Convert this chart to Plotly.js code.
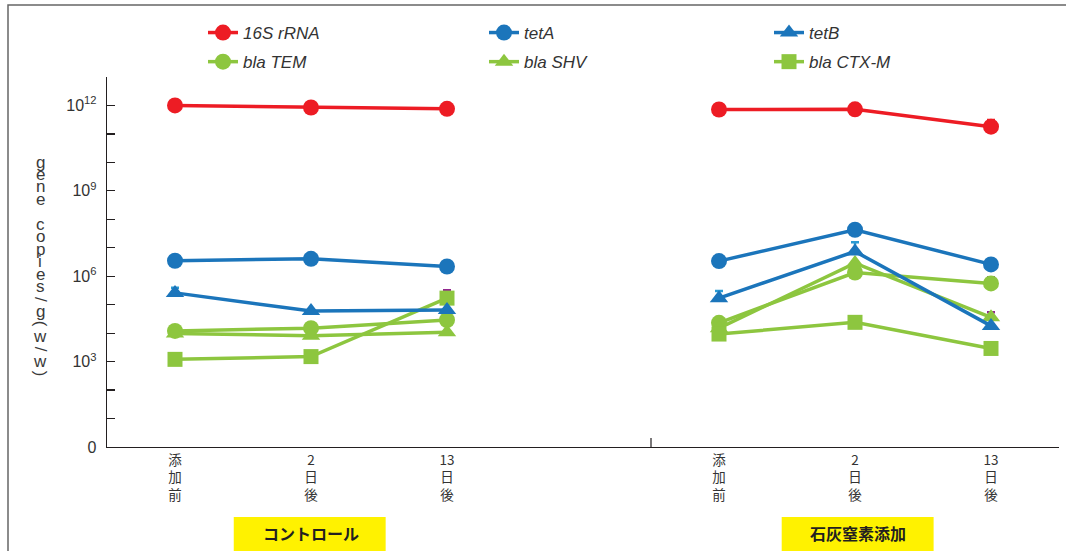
<!DOCTYPE html>
<html>
<head>
<meta charset="utf-8">
<script src="https://cdn.plot.ly/plotly-3.0.1.min.js"></script>
<style>
  html, body { margin: 0; padding: 0; background: #ffffff; }
  #chart { width: 1066px; height: 551px; }
</style>
</head>
<body>
<div id="chart"></div>
<script>
// Sampling points (two treatment groups, three time points each)
const timepoints = ["添<br>加<br>前", "2<br>日<br>後", "13<br>日<br>後"];
const groupNames = ["コントロール", "石灰窒素添加"];
const controlX = [0, 1, 2];
const treatedX = [4, 5, 6];

// Gene copies per gram (w/w): control group
const ctrl16S  = [1.0e12, 8.5e11, 7.6e11];
const ctrlTetA = [3.5e6, 4.1e6, 2.2e6];
const ctrlTetB = [2.6e5, 6.0e4, 6.5e4];
const ctrlTEM  = [1.2e4, 1.5e4, 2.9e4];
const ctrlSHV  = [9.8e3, 8.1e3, 1.07e4];
const ctrlCTXM = [1.2e3, 1.5e3, 1.7e5];

// Gene copies per gram (w/w): lime nitrogen group
const trt16S  = [7.2e11, 7.3e11, 1.8e11];
const trtTetA = [3.4e6, 4.3e7, 2.6e6];
const trtTetB = [1.7e5, 7.4e6, 1.8e4];
const trtTEM  = [2.3e4, 1.35e6, 5.6e5];
const trtSHV  = [1.5e4, 2.9e6, 3.6e4];
const trtCTXM = [9.3e3, 2.4e4, 2.9e3];

// Upper error (standard deviation) for each group
const err16S  = [[0, 0, 0], [0, 0, 1.3e11]];
const errTetA = [[0, 0, 0], [0, 0, 0]];
const errTetB = [[1.3e5, 0, 0], [1.3e5, 8.1e6, 0]];
const errTEM  = [[0, 0, 0], [0, 0, 3.7e5]];
const errSHV  = [[0, 0, 0], [0, 0, 1.8e4]];
const errCTXM = [[0, 0, 1.5e5], [0, 0, 0]];

const RED = "#ed1c24", BLUE = "#1b75bb", GREEN = "#8dc63f";
const CAP_BLUE = "#2b9bd3", CAP_PURPLE = "#92278f";

// Join both groups into one series, broken by a gap between the groups
function joinGroups(a, b) { return a.concat([null], b); }
const xAll = controlX.concat([3], treatedX);

function series(name, ctrl, trt, err, color, symbol, capColor, legendId, rank) {
  return {
    type: "scatter",
    mode: "lines+markers",
    name: name,
    legend: legendId,
    legendgroup: name,
    legendrank: rank,
    x: xAll,
    y: joinGroups(ctrl, trt),
    connectgaps: false,
    line: { color: color, width: 3.5 },
    marker: { color: color, symbol: symbol, size: symbol === "square" ? 15 : 16 },
    error_y: {
      type: "data", symmetric: false,
      array: joinGroups(err[0], err[1]),
      arrayminus: joinGroups([0, 0, 0], [0, 0, 0]),
      color: capColor, thickness: 2.5, width: 4
    },
    hoverinfo: "x+y+name"
  };
}

const traces = [
  series("16S rRNA", ctrl16S, trt16S, err16S, RED, "circle", RED, "legend", 1),
  series("bla TEM", ctrlTEM, trtTEM, errTEM, GREEN, "circle", CAP_PURPLE, "legend", 2),
  series("tetA", ctrlTetA, trtTetA, errTetA, BLUE, "circle", CAP_BLUE, "legend2", 1),
  series("bla SHV", ctrlSHV, trtSHV, errSHV, GREEN, "triangle-up", CAP_PURPLE, "legend2", 2),
  series("tetB", ctrlTetB, trtTetB, errTetB, BLUE, "triangle-up", CAP_BLUE, "legend3", 1),
  series("bla CTX-M", ctrlCTXM, trtCTXM, errCTXM, GREEN, "square", CAP_PURPLE, "legend3", 2)
];
// draw order: keep 16S and the tet genes above the bla genes where they cross
const drawOrder = [1, 3, 5, 0, 2, 4].map(i => traces[i]);

// Log axis: labels every third decade, a minor tick at every decade
const yTickVals = [1, 1e3, 1e6, 1e9, 1e12];
const yTickText = ["0", "10<sup>3</sup>", "10<sup>6</sup>", "10<sup>9</sup>", "10<sup>12</sup>"];
const yMinorVals = [1e1, 1e2, 1e4, 1e5, 1e7, 1e8, 1e10, 1e11, 1e13];

const yTitle = "gene copies/g(w/w)";

// plot area geometry in pixels (for paper-coordinate placement of decorations)
const M = { l: 107, r: 7, t: 77, b: 104 };
const W = 1066 - M.l - M.r, H = 551 - M.t - M.b;
const px = v => (v - M.l) / W;
const py = v => (551 - M.b - v) / H;

const annotations = [];
// vertical axis title, one upright character per line; slash and brackets turned
for (let i = 0; i < yTitle.length; i++) {
  const ch = yTitle[i];
  if (ch === " ") continue;
  const turned = (ch === "/" || ch === "(" || ch === ")");
  annotations.push({
    xref: "paper", yref: "paper", x: px(40), y: py(162 + 12.45 * i),
    text: ch, showarrow: false, xanchor: "center", yanchor: "middle",
    textangle: turned ? 90 : 0,
    font: { family: "Liberation Sans, Arial, sans-serif", size: 17, color: "#3a3a3a" }
  });
}
// group captions on yellow labels
const groupCenters = [1, 5.02];
groupNames.forEach((g, i) => {
  annotations.push({
    xref: "x", yref: "paper", x: groupCenters[i], y: py(533),
    text: "<b>" + g + "</b>", showarrow: false, xanchor: "center", yanchor: "middle",
    font: { family: "Noto Sans CJK JP, sans-serif", size: 16, color: "#231f20" }
  });
});

const shapes = [
  // outer frame
  { type: "rect", xref: "paper", yref: "paper", x0: px(8), x1: px(1080), y0: py(565), y1: py(5),
    line: { color: "#666", width: 1.5 }, fillcolor: "rgba(0,0,0,0)", layer: "below" },
  // separator between the two groups
  { type: "line", xref: "x", yref: "paper", x0: 3.5, x1: 3.5, y0: 0, y1: 9 / H,
    line: { color: "#231f20", width: 1.2 } },
  // yellow caption boxes
  { type: "rect", xref: "x", yref: "paper", x0: 0.432, x1: 1.549, y0: py(560), y1: py(517),
    line: { width: 0 }, fillcolor: "#fff200", layer: "below" },
  { type: "rect", xref: "x", yref: "paper", x0: 4.461, x1: 5.578, y0: py(560), y1: py(517),
    line: { width: 0 }, fillcolor: "#fff200", layer: "below" }
];

function legendAt(xPix) {
  return {
    x: px(xPix), xanchor: "left", y: py(15), yanchor: "top",
    orientation: "v", traceorder: "grouped", tracegroupgap: 4,
    bgcolor: "rgba(0,0,0,0)", borderwidth: 0,
    font: { family: "Liberation Sans, Arial, sans-serif", size: 17, color: "#333", style: "italic" },
    itemclick: false, itemdoubleclick: false
  };
}

const layout = {
  width: 1066, height: 551,
  margin: M,
  paper_bgcolor: "#ffffff", plot_bgcolor: "#ffffff",
  showlegend: true,
  legend: legendAt(203),
  legend2: legendAt(484),
  legend3: legendAt(769),
  xaxis: {
    range: [-0.5, 6.5],
    tickvals: controlX.concat(treatedX),
    ticktext: timepoints.concat(timepoints),
    ticks: "", showgrid: false, zeroline: false,
    showline: true, linecolor: "#231f20", linewidth: 1.3,
    tickfont: { family: "Noto Sans CJK JP, sans-serif", size: 13.5, color: "#333" },
    fixedrange: true
  },
  yaxis: {
    type: "log", range: [0, 13],
    tickmode: "array", tickvals: yTickVals, ticktext: yTickText,
    ticks: "inside", ticklen: 8, tickwidth: 1.2, tickcolor: "#231f20",
    minor: { tickmode: "array", tickvals: yMinorVals, ticks: "inside", ticklen: 8, tickwidth: 1.2, tickcolor: "#231f20", showgrid: false },
    ticklabelstandoff: 6,
    showgrid: false, zeroline: false,
    showline: true, linecolor: "#231f20", linewidth: 1.3,
    tickfont: { family: "Liberation Sans, Arial, sans-serif", size: 16, color: "#333" },
    fixedrange: true
  },
  annotations: annotations,
  shapes: shapes
};

Plotly.newPlot("chart", drawOrder, layout, { displayModeBar: false, staticPlot: true });
</script>
</body>
</html>
